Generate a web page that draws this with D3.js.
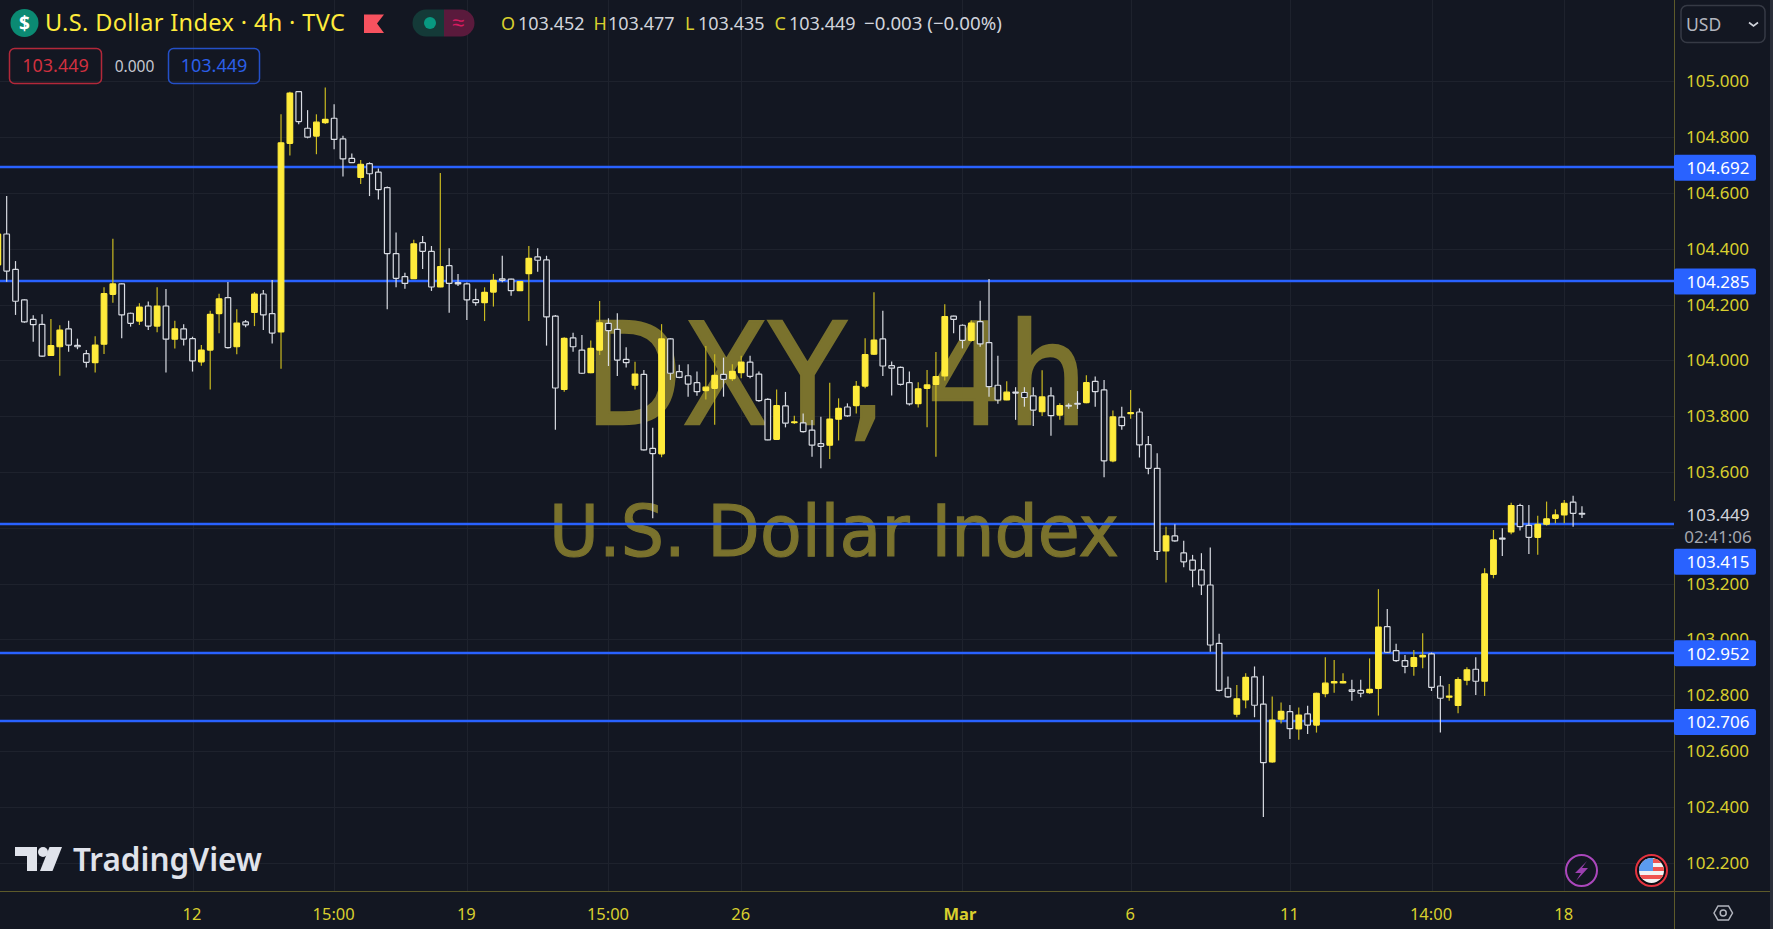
<!DOCTYPE html>
<html>
<head>
<meta charset="utf-8">
<title>U.S. Dollar Index 4h</title>
<script src="https://cdnjs.cloudflare.com/ajax/libs/d3/7.8.5/d3.min.js"></script>
<style>
  html, body { margin: 0; padding: 0; background: #131722; overflow: hidden; }
  svg { display: block; }
  text { font-family: "Noto Sans", sans-serif; }
</style>
</head>
<body>
<script>
// candles, oldest first. index 0 is cut by the left edge
var opens = [
  104.342,104.453,104.326,104.217,104.147,104.129,104.018,104.049,104.113,104.054,
  104.024,103.992,104.058,104.237,104.274,104.169,104.141,104.195,104.123,104.195,
  104.076,104.113,104.078,103.995,104.037,104.168,104.225,104.049,104.138,104.172,
  104.238,104.168,104.102,104.778,104.963,104.832,104.804,104.852,104.868,104.794,
  104.724,104.656,104.705,104.675,104.619,104.383,104.300,104.293,104.422,104.391,
  104.263,104.340,104.279,104.274,104.218,104.207,104.245,104.292,104.291,104.250,
  104.311,104.371,104.360,104.159,103.896,104.081,104.037,103.956,104.037,104.133,
  104.111,104.004,103.911,103.950,103.685,103.665,104.077,103.960,103.945,103.920,
  103.892,103.900,103.950,103.935,103.956,103.994,103.951,103.860,103.717,103.837,
  103.777,103.776,103.750,103.702,103.696,103.789,103.833,103.838,103.908,104.022,
  104.077,103.981,103.975,103.920,103.845,103.900,103.914,103.944,104.159,104.126,
  104.072,104.139,104.064,103.911,103.858,103.886,103.885,103.873,103.816,103.873,
  103.804,103.839,103.846,103.849,103.925,103.894,103.640,103.797,103.809,103.815,
  103.698,103.613,103.317,103.371,103.310,103.284,103.249,103.195,102.986,102.825,
  102.732,102.783,102.866,102.768,102.561,102.714,102.741,102.679,102.733,102.693,
  102.806,102.844,102.844,102.819,102.817,102.809,102.824,103.046,102.960,102.924,
  102.903,102.937,102.948,102.833,102.793,102.763,102.854,102.893,102.850,103.233,
  103.363,103.385,103.480,103.409,103.366,103.413,103.434,103.446,103.492,103.452
];
var highs = [
  104.470,104.589,104.356,104.219,104.162,104.165,104.148,104.126,104.142,104.078,
  104.037,104.087,104.262,104.436,104.276,104.171,104.205,104.211,104.262,104.256,
  104.142,104.130,104.085,104.055,104.178,104.239,104.281,104.183,104.145,104.245,
  104.252,104.288,104.882,104.963,104.966,104.897,104.882,104.978,104.918,104.805,
  104.742,104.718,104.710,104.688,104.623,104.458,104.314,104.432,104.446,104.410,
  104.672,104.402,104.310,104.279,104.257,104.262,104.310,104.375,104.293,104.285,
  104.410,104.402,104.375,104.163,104.083,104.099,104.091,104.071,104.213,104.151,
  104.169,104.047,103.995,103.966,103.759,104.130,104.079,103.984,103.986,103.960,
  104.052,104.022,104.010,103.986,104.017,104.017,103.960,103.864,103.896,103.887,
  103.802,103.810,103.786,103.798,103.920,103.864,103.846,103.926,104.079,104.244,
  104.178,103.996,103.978,103.960,103.922,103.966,104.030,104.201,104.160,104.129,
  104.143,104.214,104.292,104.017,103.925,103.904,103.904,103.904,103.965,103.904,
  103.846,103.846,103.890,103.947,103.942,103.930,103.820,103.834,103.894,103.828,
  103.729,103.667,103.404,103.413,103.354,103.303,103.309,103.329,103.020,102.867,
  102.837,102.879,102.903,102.870,102.795,102.774,102.765,102.756,102.762,102.809,
  102.936,102.926,102.879,102.855,102.855,102.932,103.180,103.109,102.984,102.944,
  102.962,103.022,102.953,102.869,102.840,102.864,102.900,102.936,103.255,103.392,
  103.398,103.490,103.486,103.482,103.443,103.494,103.466,103.500,103.515,103.477
];
var lows = [
  104.330,104.282,104.163,104.135,104.067,104.012,104.016,103.945,104.031,104.040,
  103.975,103.957,104.023,104.207,104.079,104.121,104.127,104.109,104.101,103.957,
  104.043,104.053,103.960,103.981,103.896,104.097,104.043,104.022,104.119,104.123,
  104.109,104.061,103.970,104.734,104.846,104.796,104.739,104.847,104.757,104.659,
  104.708,104.632,104.589,104.577,104.183,104.262,104.257,104.292,104.328,104.249,
  104.262,104.171,104.267,104.145,104.196,104.141,104.193,104.280,104.232,104.249,
  104.141,104.318,104.053,103.751,103.888,104.031,103.951,103.954,104.019,103.980,
  103.944,103.975,103.896,103.677,103.434,103.653,103.930,103.936,103.870,103.873,
  103.860,103.769,103.870,103.926,103.936,103.936,103.852,103.714,103.715,103.760,
  103.772,103.742,103.655,103.613,103.647,103.713,103.798,103.810,103.900,104.019,
  103.944,103.874,103.910,103.838,103.831,103.760,103.655,103.928,104.097,104.043,
  104.068,104.049,103.870,103.845,103.857,103.787,103.834,103.765,103.801,103.730,
  103.787,103.827,103.826,103.846,103.834,103.581,103.635,103.751,103.791,103.652,
  103.592,103.285,103.204,103.350,103.259,103.187,103.159,102.956,102.813,102.791,
  102.721,102.753,102.721,102.363,102.558,102.699,102.643,102.640,102.661,102.666,
  102.793,102.809,102.843,102.780,102.793,102.805,102.727,102.952,102.920,102.879,
  102.870,102.897,102.815,102.666,102.780,102.735,102.836,102.801,102.797,103.219,
  103.299,103.377,103.390,103.306,103.303,103.408,103.416,103.416,103.404,103.435
];
var closes = [
  104.453,104.320,104.212,104.138,104.128,104.015,104.053,104.109,104.055,104.049,
  103.993,104.055,104.239,104.274,104.163,104.133,104.191,104.123,104.195,104.076,
  104.113,104.076,103.998,104.037,104.165,104.221,104.046,104.134,104.127,104.238,
  104.163,104.098,104.780,104.958,104.856,104.800,104.854,104.864,104.792,104.722,
  104.709,104.703,104.669,104.612,104.383,104.294,104.276,104.418,104.391,104.263,
  104.336,104.276,104.274,104.217,104.207,104.244,104.287,104.287,104.250,104.282,
  104.366,104.359,104.156,103.901,104.079,104.049,103.954,104.043,104.135,104.107,
  104.001,103.992,103.951,103.679,103.666,104.077,103.954,103.939,103.915,103.888,
  103.904,103.946,103.932,103.961,103.994,103.943,103.856,103.715,103.838,103.775,
  103.780,103.745,103.696,103.692,103.790,103.828,103.801,103.907,104.021,104.073,
  103.980,103.972,103.914,103.844,103.898,103.912,103.942,104.157,104.147,104.072,
  104.134,104.059,103.906,103.858,103.886,103.883,103.867,103.822,103.869,103.802,
  103.838,103.836,103.843,103.920,103.888,103.640,103.798,103.766,103.813,103.697,
  103.613,103.315,103.371,103.353,103.278,103.248,103.195,102.980,102.817,102.794,
  102.787,102.864,102.764,102.558,102.711,102.742,102.680,102.729,102.693,102.807,
  102.843,102.849,102.849,102.814,102.807,102.821,103.044,102.954,102.924,102.903,
  102.935,102.943,102.828,102.789,102.797,102.856,102.891,102.850,103.235,103.357,
  103.359,103.480,103.404,103.366,103.412,103.432,103.446,103.488,103.452,103.449
];

var priceTicks = [105, 104.8, 104.6, 104.4, 104.2, 104, 103.8, 103.6, 103.2, 103, 102.8, 102.6, 102.4, 102.2];
var timeTickIndex = [22, 38, 53, 69, 84, 109, 128, 146, 162, 177];
var timeTickLabels = ["12", "15:00", "19", "15:00", "26", "Mar", "6", "11", "14:00", "18"];
var levels = [104.692, 104.285, 103.415, 102.952, 102.706];
// where each level's tag sits on the axis; 103.415 is pushed down under the countdown
var levelTagPrices = [104.692, 104.285, 103.28, 102.952, 102.706];
var ohlcLabels = ["O", "H", "L", "C"];
var ohlcValues = ["103.452", "103.477", "103.435", "103.449"];

var w = 1773;
var h = 929;
var plotRight = 1674.5;
var plotBottom = 891.5;

var bg = "#131722";
var gridColor = "#1e222d";
var axisLine = "#5d5a2a";
var yellow = "#ffeb3b";
var yellowWick = "#c9b920";
var white = "#d8dbe2";
var blue = "#2962ff";
var tickColor = "#d9cf2e";
var watermarkColor = "#7a722d";

var x = d3.scaleLinear().domain([1, 179]).range([6.67, 1581.97]);
var y = d3.scaleLinear().domain([105, 102.2]).range([81.4, 862.6]);

var svg = d3.select("body").append("svg").attr("width", w).attr("height", h);

svg.append("rect").attr("width", w).attr("height", h).attr("fill", bg);

// grid
svg.append("g").selectAll("line").data(priceTicks.concat([103.4])).enter().append("line")
    .attr("x1", 0).attr("x2", plotRight)
    .attr("y1", (d) => { return Math.round(y(d)) + 0.5 })
    .attr("y2", (d) => { return Math.round(y(d)) + 0.5 })
    .attr("stroke", gridColor);

svg.append("g").selectAll("line").data(timeTickIndex).enter().append("line")
    .attr("x1", (d) => { return Math.round(x(d)) + 0.5 })
    .attr("x2", (d) => { return Math.round(x(d)) + 0.5 })
    .attr("y1", 0).attr("y2", plotBottom)
    .attr("stroke", gridColor);

// watermark, squeezed to the width the picture shows and thickened with a stroke
var watermark = svg.append("g").attr("fill", watermarkColor).attr("stroke", watermarkColor);
watermark.append("text").attr("x", 584.5).attr("y", 424)
    .attr("textLength", 503).attr("lengthAdjust", "spacingAndGlyphs").attr("stroke-width", 2.4)
    .style("font-family", '"DejaVu Sans", sans-serif').style("font-size", "141px").text("DXY, 4h");
watermark.append("text").attr("x", 549).attr("y", 555.5)
    .attr("textLength", 570).attr("lengthAdjust", "spacingAndGlyphs").attr("stroke-width", 1.2)
    .style("font-family", '"DejaVu Sans", sans-serif').style("font-size", "72px").text("U.S. Dollar Index");

// horizontal levels under the candles
svg.append("g").selectAll("line").data(levels).enter().append("line")
    .attr("x1", 0).attr("x2", plotRight)
    .attr("y1", (d) => { return Math.round(y(d)) })
    .attr("y2", (d) => { return Math.round(y(d)) })
    .attr("stroke", blue).attr("stroke-width", 2.5);

// candles
var bars = d3.range(opens.length);
var isUp = (i) => { return closes[i] >= opens[i] };
var bodyWidth = 5.6;

svg.append("g").selectAll("line").data(bars).enter().append("line")
    .attr("x1", (i) => { return x(i) })
    .attr("x2", (i) => { return x(i) })
    .attr("y1", (i) => { return y(highs[i]) })
    .attr("y2", (i) => { return y(lows[i]) })
    .attr("stroke", (i) => { return isUp(i) ? yellowWick : white })
    .attr("stroke-width", 1.2);

svg.append("g").selectAll("rect").data(bars).enter().append("rect")
    .attr("x", (i) => { return x(i) - bodyWidth / 2 })
    .attr("width", bodyWidth)
    .attr("y", (i) => { return y(Math.max(opens[i], closes[i])) })
    .attr("height", (i) => { return Math.max(0.4, Math.abs(y(opens[i]) - y(closes[i]))) })
    .attr("rx", 0.5)
    .attr("fill", (i) => { return isUp(i) ? yellow : bg })
    .attr("stroke", (i) => { return isUp(i) ? yellow : white })
    .attr("stroke-width", 1.2);

// axes
var priceAxis = d3.axisRight(y).tickValues(priceTicks).tickSize(0).tickFormat(d3.format(".3f"));
var priceG = svg.append("g").attr("transform", "translate(" + plotRight + ",0)").call(priceAxis);
priceG.select(".domain").remove();
priceG.selectAll("text")
    .attr("x", 43).attr("text-anchor", "middle")
    .attr("fill", tickColor).style("font-size", "17px");

var timeAxis = d3.axisBottom(x).tickValues(timeTickIndex).tickSize(0)
    .tickFormat((d, i) => { return timeTickLabels[i] });
var timeG = svg.append("g").attr("transform", "translate(0," + plotBottom + ")").call(timeAxis);
timeG.select(".domain").remove();
timeG.selectAll("text")
    .attr("x", (d, i) => { return timeTickLabels[i] == "Mar" ? -3 : -1 })
    .attr("y", 22.5).attr("dy", "0.35em")
    .attr("fill", tickColor).style("font-size", "16.5px")
    .style("font-weight", (d, i) => { return timeTickLabels[i] == "Mar" ? "700" : "400" });

svg.append("line").attr("x1", 0).attr("x2", w).attr("y1", plotBottom).attr("y2", plotBottom).attr("stroke", axisLine);
svg.append("line").attr("x1", plotRight).attr("x2", plotRight).attr("y1", 0).attr("y2", h).attr("stroke", axisLine);
svg.append("rect").attr("x", 1770).attr("y", 0).attr("width", 3).attr("height", h).attr("fill", "#2a2e39");

// last price and countdown
svg.append("rect").attr("x", plotRight - 0.5).attr("y", 501).attr("width", 92).attr("height", 48).attr("fill", bg);
svg.append("text").attr("x", 1718).attr("y", y(closes[179]) + 0.5).attr("dy", "0.35em").attr("text-anchor", "middle")
    .attr("fill", "#d1d4dc").style("font-size", "17px").text(d3.format(".3f")(closes[179]));
svg.append("text").attr("x", 1718).attr("y", 537).attr("dy", "0.35em").attr("text-anchor", "middle")
    .attr("fill", "#a3a6af").style("font-size", "17px").text("02:41:06");

// level tags
var tags = svg.append("g").selectAll("g").data(levels).enter().append("g");
tags.append("rect")
    .attr("x", plotRight - 0.5)
    .attr("y", (d, i) => { return y(levelTagPrices[i]) - 12.5 })
    .attr("width", 82).attr("height", 26).attr("rx", 2)
    .attr("fill", blue);
tags.append("text")
    .attr("x", 1718)
    .attr("y", (d, i) => { return y(levelTagPrices[i]) + 1 })
    .attr("dy", "0.35em").attr("text-anchor", "middle")
    .attr("fill", "#ffffff").style("font-size", "17px")
    .text((d) => { return d3.format(".3f")(d) });

// header
svg.append("circle").attr("cx", 24.5).attr("cy", 23).attr("r", 14).attr("fill", "#0b8a73");
svg.append("text").attr("x", 24.5).attr("y", 29.5).attr("text-anchor", "middle").attr("fill", "#fff")
    .style("font-size", "19px").style("font-weight", "700").text("$");
svg.append("text").attr("x", 45).attr("y", 31).attr("fill", yellow)
    .style("font-size", "23.5px").style("letter-spacing", "0.37px").text("U.S. Dollar Index · 4h · TVC");

svg.append("path").attr("d", "M364,14.5H384L377,23.5L384,33H364Z").attr("fill", "#f7525f");

svg.append("path").attr("d", "M444,9.5H426a13.5,13.5 0 0 0 0,27H444Z").attr("fill", "#143a38");
svg.append("path").attr("d", "M444,9.5H461a13.5,13.5 0 0 1 0,27H444Z").attr("fill", "#5a1a3c");
svg.append("circle").attr("cx", 430).attr("cy", 23).attr("r", 6).attr("fill", "#089981");
svg.append("text").attr("x", 458).attr("y", 30).attr("text-anchor", "middle").attr("fill", "#d81b60")
    .style("font-size", "22px").text("≈");

var ohlcLabelX = [501, 593.5, 685, 774.5];
var ohlcValueX = [518, 608, 698, 789];
ohlcLabels.forEach((label, i) => {
    svg.append("text").attr("x", ohlcLabelX[i]).attr("y", 30).attr("fill", tickColor)
        .style("font-size", "18px").text(label);
    svg.append("text").attr("x", ohlcValueX[i]).attr("y", 30).attr("fill", "#d1d4dc")
        .style("font-size", "18px").text(ohlcValues[i]);
});
svg.append("text").attr("x", 864).attr("y", 30).attr("fill", "#d1d4dc")
    .style("font-size", "18.7px").text("−0.003 (−0.00%)");

// value chips
svg.append("rect").attr("x", 9.5).attr("y", 48.5).attr("width", 92).attr("height", 35).attr("rx", 5)
    .attr("fill", "none").attr("stroke", "#b2283a").attr("stroke-width", 1.5);
svg.append("text").attr("x", 55.5).attr("y", 72).attr("text-anchor", "middle").attr("fill", "#d0303f")
    .style("font-size", "18px").text("103.449");
svg.append("text").attr("x", 134.5).attr("y", 71.5).attr("text-anchor", "middle").attr("fill", "#c5c8d0")
    .style("font-size", "15.5px").text("0.000");
svg.append("rect").attr("x", 168.5).attr("y", 48.5).attr("width", 91).attr("height", 35).attr("rx", 5)
    .attr("fill", "none").attr("stroke", "#2450c8").attr("stroke-width", 1.5);
svg.append("text").attr("x", 214).attr("y", 72).attr("text-anchor", "middle").attr("fill", "#2b5fe8")
    .style("font-size", "18px").text("103.449");

// currency box
svg.append("rect").attr("x", 1681).attr("y", 5.5).attr("width", 84).attr("height", 37).attr("rx", 6)
    .attr("fill", "none").attr("stroke", "#363a45").attr("stroke-width", 1.5);
svg.append("text").attr("x", 1686).attr("y", 31).attr("fill", "#b2b5be")
    .style("font-size", "17.5px").text("USD");
svg.append("path").attr("d", "M1749,22.5L1753.5,26L1758,22.5").attr("fill", "none")
    .attr("stroke", "#d1d4dc").attr("stroke-width", 1.6);

// logo
var logo = svg.append("g").attr("fill", "#e0e3eb");
logo.append("path").attr("d", "M15,847H37V871H27V856H15Z");
logo.append("circle").attr("cx", 43).attr("cy", 852).attr("r", 5);
logo.append("path").attr("d", "M49.5,847H62L52.5,871H40Z");
logo.append("text").attr("x", 73).attr("y", 870.5).style("font-size", "31.5px").style("font-weight", "600").text("TradingView");

// bottom right badges
svg.append("circle").attr("cx", 1581.5).attr("cy", 870.5).attr("r", 15.5)
    .attr("fill", bg).attr("stroke", "#ab47bc").attr("stroke-width", 2);
svg.append("path").attr("d", "M1587,861L1575,873H1581L1576,881L1588,868H1582Z").attr("fill", "#9c3fb0");

var flagClip = svg.append("clipPath").attr("id", "flagClip");
flagClip.append("circle").attr("cx", 1651.5).attr("cy", 870.5).attr("r", 12.5);
svg.append("circle").attr("cx", 1651.5).attr("cy", 870.5).attr("r", 15.5)
    .attr("fill", "#0c0e14").attr("stroke", "#e5323f").attr("stroke-width", 2);
var flag = svg.append("g").attr("clip-path", "url(#flagClip)");
flag.append("rect").attr("x", 1639).attr("y", 858).attr("width", 25).attr("height", 25).attr("fill", "#f3f3f3");
d3.range(3).forEach((k) => {
    flag.append("rect").attr("x", 1639).attr("y", 859 + k * 8).attr("width", 25).attr("height", 4).attr("fill", "#ef5350");
});
flag.append("rect").attr("x", 1639).attr("y", 858).attr("width", 14).attr("height", 13).attr("fill", "#5b9bf0");

// settings hexagon
svg.append("path").attr("d", "M1714,913L1718,906H1728.5L1732.5,913L1728.5,920H1718Z")
    .attr("fill", "none").attr("stroke", "#b2b5be").attr("stroke-width", 1.5);
svg.append("circle").attr("cx", 1723.2).attr("cy", 913).attr("r", 3)
    .attr("fill", "none").attr("stroke", "#b2b5be").attr("stroke-width", 1.5);
</script>
</body>
</html>
